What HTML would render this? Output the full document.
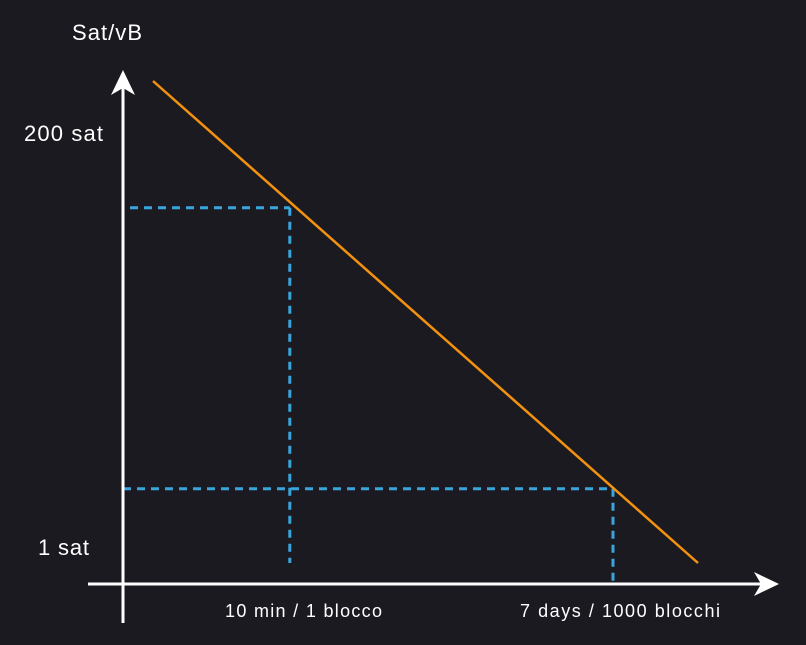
<!DOCTYPE html>
<html><head><meta charset="utf-8">
<style>
html,body{margin:0;padding:0;background:#1c1a21;}
svg{display:block;}
text{font-family:"Liberation Sans",sans-serif;fill:#fff;}
</style></head>
<body>
<svg id="chart" width="806" height="645" viewBox="0 0 806 645">
<rect width="806" height="645" fill="#1c1a21"/>
<g id="guides"></g>
<g id="series"></g>
<line x1="123" y1="623" x2="123" y2="85" stroke="#fff" stroke-width="3"/>
<polygon points="123,70 111,95 123,88 135,95" fill="#fff"/>
<line x1="88" y1="584" x2="765" y2="584" stroke="#fff" stroke-width="3"/>
<polygon points="779,584 754,572 761,584 754,596" fill="#fff"/>
<text x="72" y="40" font-size="22" textLength="70">Sat/vB</text>
<text x="24" y="141" font-size="22" textLength="79">200 sat</text>
<text x="38" y="555" font-size="22" textLength="51">1 sat</text>
<text x="225" y="617" font-size="18" textLength="157">10 min / 1 blocco</text>
<text x="520" y="617" font-size="18" textLength="200">7 days / 1000 blocchi</text>
</svg>
<script>
const lineX = [0, 100];
const lineY = [100, 0];
const markX = [25.1, 84.4];
const markY = [73.7, 15.4];
const markXStart = [130, 123];
function sx(v){return 153 + v*5.45;}
function sy(v){return 563 - v*4.82;}
const NS='http://www.w3.org/2000/svg';
const series=document.getElementById('series');
const l=document.createElementNS(NS,'line');
l.setAttribute('x1',sx(lineX[0]));l.setAttribute('y1',sy(lineY[0]));
l.setAttribute('x2',sx(lineX[1]));l.setAttribute('y2',sy(lineY[1]));
l.setAttribute('stroke','#f2920f');l.setAttribute('stroke-width','2.5');


series.appendChild(l);
const guides=document.getElementById('guides');
const ends=[563,585];
for(let i=0;i<markX.length;i++){
  const h=document.createElementNS(NS,'line');
  h.setAttribute('x1',markXStart[i]);h.setAttribute('y1',sy(markY[i]));
  h.setAttribute('x2',sx(markX[i]));h.setAttribute('y2',sy(markY[i]));
  h.setAttribute('stroke','#3aa5dc');h.setAttribute('stroke-width','3');h.setAttribute('stroke-dasharray','8 6');
  
  
  guides.appendChild(h);
  const v=document.createElementNS(NS,'line');
  v.setAttribute('x1',sx(markX[i]));v.setAttribute('y1',sy(markY[i]));
  v.setAttribute('x2',sx(markX[i]));v.setAttribute('y2',ends[i]);
  v.setAttribute('stroke','#3aa5dc');v.setAttribute('stroke-width','3');v.setAttribute('stroke-dasharray','8 6');
  
  
  guides.appendChild(v);
}
</script>
</body></html>
